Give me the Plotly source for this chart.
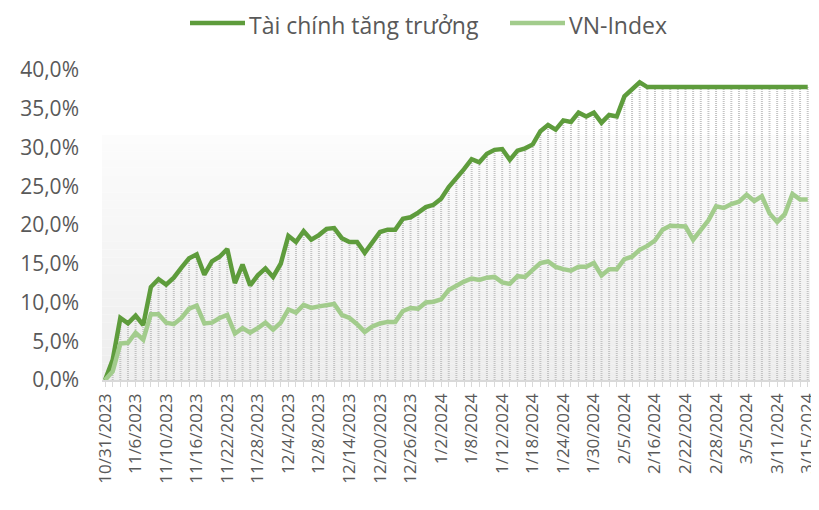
import pandas as pd
import plotly.graph_objects as go

# Trading days (Vietnam) from 10/31/2023 to 3/15/2024
holidays = ["2024-01-01", "2024-02-08", "2024-02-09", "2024-02-12", "2024-02-13", "2024-02-14"]
days = [d for d in pd.bdate_range("2023-10-31", "2024-03-15") if d.strftime("%Y-%m-%d") not in holidays]
dates = [f"{d.month}/{d.day}/{d.year}" for d in days]

series_names = ["Tài chính tăng trưởng", "VN-Index"]

tai_chinh = [
    0.0, 2.6, 8.0, 7.3, 8.3, 7.1, 12.0, 13.0, 12.3, 13.2,
    14.5, 15.7, 16.2, 13.6, 15.3, 15.9, 16.9, 12.5, 14.9, 12.2,
    13.5, 14.4, 13.3, 15.0, 18.6, 17.8, 19.2, 18.1, 18.7, 19.5,
    19.6, 18.3, 17.8, 17.8, 16.4, 17.8, 19.1, 19.4, 19.4, 20.8,
    21.0, 21.6, 22.3, 22.6, 23.4, 24.9, 26.0, 27.2, 28.5, 28.1,
    29.2, 29.7, 29.8, 28.4, 29.6, 29.9, 30.4, 32.1, 32.9, 32.3,
    33.5, 33.3, 34.5, 34.0, 34.5, 33.2, 34.2, 34.0, 36.6, 37.5,
    38.4, 37.8, 37.8, 37.8, 37.8, 37.8, 37.8, 37.8, 37.8, 37.8,
    37.8, 37.8, 37.8, 37.8, 37.8, 37.8, 37.8, 37.8, 37.8, 37.8,
    37.8, 37.8, 37.8,
]

vn_index = [
    0.0, 1.1, 4.7, 4.8, 6.1, 5.2, 8.5, 8.5, 7.4, 7.2,
    8.0, 9.2, 9.6, 7.3, 7.4, 8.0, 8.4, 6.0, 6.7, 6.1,
    6.7, 7.4, 6.5, 7.4, 9.1, 8.7, 9.7, 9.3, 9.5, 9.6,
    9.8, 8.4, 8.0, 7.2, 6.2, 6.9, 7.3, 7.5, 7.5, 8.9,
    9.3, 9.2, 10.0, 10.1, 10.4, 11.6, 12.2, 12.7, 13.1, 12.9,
    13.2, 13.3, 12.6, 12.4, 13.4, 13.3, 14.2, 15.1, 15.3, 14.6,
    14.3, 14.1, 14.6, 14.6, 15.1, 13.5, 14.3, 14.3, 15.6, 15.9,
    16.8, 17.3, 18.0, 19.4, 19.9, 19.9, 19.8, 18.1, 19.4, 20.6,
    22.4, 22.2, 22.7, 23.0, 23.9, 23.1, 23.7, 21.5, 20.4, 21.4,
    24.0, 23.3, 23.3,
]

y_ticks = [0, 5, 10, 15, 20, 25, 30, 35, 40]
y_tick_labels = ["0,0%", "5,0%", "10,0%", "15,0%", "20,0%", "25,0%", "30,0%", "35,0%", "40,0%"]

FONT = "Open Sans"
TEXT = "#595959"
DARK = "#5e9c3c"
LIGHT = "#a2cc8c"

# the page body adds an 8px offset; size the figure so the window shows it like the reference
OFF = 8
W, H = 819 - OFF, 510 - OFF
PLOT_L, PLOT_R, PLOT_T, PLOT_B = 102, 810, 70, 380   # plot area in window pixels
ML, MT = PLOT_L - OFF, PLOT_T - OFF
MR, MB = W - (PLOT_R - OFF), H - (PLOT_B - OFF)
PW, PH = PLOT_R - PLOT_L, PLOT_B - PLOT_T


def px_x(p):
    return (p - PLOT_L) / PW


def px_y(p):
    return (PLOT_B - p) / PH


idx = list(range(len(dates)))

fig = go.Figure()

# drop lines from each point of the first series down to the axis
dx, dy = [], []
for i, v in zip(idx, tai_chinh):
    dx += [i, i, None]
    dy += [0, v, None]
fig.add_trace(go.Scatter(x=dx, y=dy, mode="lines", showlegend=False, hoverinfo="skip",
                         line=dict(color="rgba(190,190,190,0.9)", width=2, dash="1px,1px")))

fig.add_trace(go.Scatter(x=idx, y=tai_chinh, mode="lines", name=series_names[0], showlegend=False,
                         line=dict(color=DARK, width=4.5)))
fig.add_trace(go.Scatter(x=idx, y=vn_index, mode="lines", name=series_names[1], showlegend=False,
                         line=dict(color=LIGHT, width=4.5)))

# gradient panel behind the plot
shapes = []
n = 30
top = 31.6
for k in range(n):
    t = k / (n - 1)
    c = int(252 - (252 - 238) * t)
    y1 = top - top * k / n
    y0 = top - top * (k + 1) / n
    shapes.append(dict(type="rect", xref="paper", yref="y", x0=0, x1=1, y0=y0, y1=y1,
                       fillcolor=f"rgb({c},{c},{c})", line=dict(width=0), layer="below"))

# manual legend
annotations = []
legend_items = [(series_names[0], DARK, 190), (series_names[1], LIGHT, 510)]
for name, col, x0 in legend_items:
    shapes.append(dict(type="line", xref="paper", yref="paper",
                       x0=px_x(x0), x1=px_x(x0 + 55), y0=px_y(23), y1=px_y(23),
                       line=dict(color=col, width=4.5)))
    annotations.append(dict(xref="paper", yref="paper", x=px_x(x0 + 58), y=px_y(25),
                            xanchor="left", yanchor="middle", text=name, showarrow=False,
                            borderpad=0,
                            font=dict(family=FONT, size=23, color=TEXT)))

ticktext = [d if i % 4 == 0 else "" for i, d in enumerate(dates)]

fig.update_layout(
    width=W, height=H,
    margin=dict(l=ML, r=MR, t=MT, b=MB, autoexpand=False),
    paper_bgcolor="white", plot_bgcolor="white",
    font=dict(family=FONT, color=TEXT, size=18),
    shapes=shapes, annotations=annotations,
    showlegend=False,
    xaxis=dict(range=[-0.4, 92.3], tickmode="array", tickvals=idx, ticktext=ticktext,
               tickangle=-90, ticks="outside", ticklen=5, tickcolor="#d9d9d9", tickwidth=1,
               showline=True, linecolor="#d9d9d9", linewidth=1.5, showgrid=False, zeroline=False,
               automargin=False, ticklabeloverflow="allow",
               tickfont=dict(family=FONT, size=17, color=TEXT)),
    yaxis=dict(range=[0, 40], tickmode="array", tickvals=y_ticks, ticktext=y_tick_labels,
               showgrid=False, zeroline=False, showline=False, ticks="", automargin=False,
               ticklabelstandoff=22,
               tickfont=dict(family=FONT, size=21, color=TEXT)),
)

fig.write_html("out.html")
